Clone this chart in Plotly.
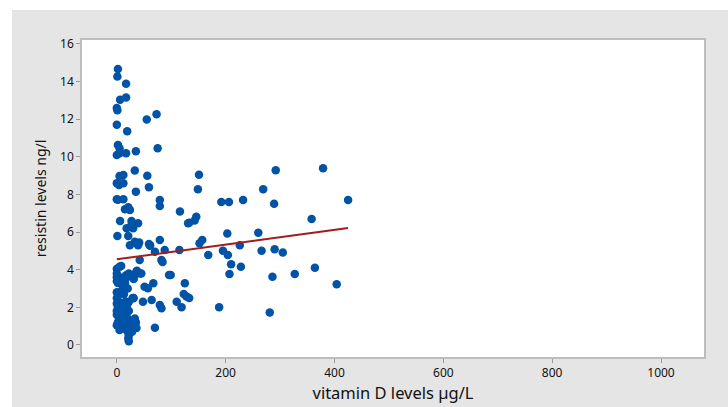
import plotly.graph_objects as go

# Vitamin D (µg/L) and resistin (ng/l) values
vit_d = [
    2, 1, 17, 17, 6, 0, 1, 73, 55, 0, 19, 2, 5, 75, 35, 0, 5, 17,
    12, 5, 33, 56, 0, 12, 4, 59, 35, 0, 12, 2, 79, 79, 21, 24, 15, 116,
    6, 27, 39, 18, 30, 27, 131, 1, 21, 33, 41, 59, 61, 79, 24, 39, 61,
    70, 88, 115, 82, 42, 96, 125, 128, 67, 51, 57, 30, 48, 64, 79, 82,
    110, 119, 70,
    151, 149, 192, 206, 232, 269, 292, 289, 133, 146, 143, 203, 260,
    157, 152, 168, 195, 204, 226, 266, 290, 210, 228, 207, 286, 123,
    133, 188, 281, 379, 425, 358, 305, 327, 364, 404, 99, 84,
    # dense cluster near the origin
    0, 5, 8, 36, 42, 37, 0, 22, 45, 17, 27, 0, 5, 18, 31, 12, 31, 0, 8,
    2, 15, 11, 14, 20, 0, 6, 2, 13, 0, 29, 31, 4, 16, 22, 0, 6, 20,
    2, 10, 18, 0, 5, 14, 22, 0, 8, 16, 4, 12, 20, 33, 2, 10, 24, 35,
    0, 8, 15, 12, 27, 36, 5, 18, 20, 28, 22, 21, 22,
]
resistin = [
    14.67, 14.27, 13.88, 13.15, 13.04, 12.6, 12.48, 12.26, 11.98, 11.7, 11.36, 10.63, 10.45, 10.46, 10.3, 10.1, 10.19, 10.19,
    9.04, 8.98, 9.27, 9.0, 8.6, 8.6, 8.5, 8.38, 8.15, 7.75, 7.75, 7.72, 7.71, 7.39, 7.32, 7.18, 7.21, 7.09,
    6.59, 6.59, 6.47, 6.2, 6.2, 6.38, 6.47, 5.79, 5.79, 5.49, 5.44, 5.37, 5.28, 5.58, 5.3, 5.3, 5.3,
    4.96, 5.05, 5.05, 4.52, 4.52, 3.72, 3.28, 2.57, 3.28, 3.1, 3.01, 2.48, 2.3, 2.39, 2.13, 1.95,
    2.3, 2.0, 0.92,
    9.05, 8.28, 7.6, 7.6, 7.71, 8.28, 9.29, 7.5, 6.49, 6.82, 6.61, 5.92, 5.97,
    5.58, 5.41, 4.78, 5.01, 4.78, 5.3, 5.01, 5.09, 4.29, 4.16, 3.77, 3.63, 2.71,
    2.5, 2.0, 1.72, 9.39, 7.71, 6.7, 4.91, 3.77, 4.11, 3.23, 3.72, 4.41,
    4.05, 4.16, 4.2, 3.9, 3.8, 3.95, 3.8, 3.8, 3.8, 3.7, 3.7, 3.6, 3.6, 3.6, 3.6, 3.5, 3.5, 3.4, 3.4,
    3.3, 3.3, 3.0, 3.0, 3.0, 2.8, 2.8, 2.7, 2.7, 2.5, 2.5, 2.5, 2.3, 2.3, 2.3, 2.2, 2.2, 2.2,
    2.0, 2.0, 2.0, 1.8, 1.8, 1.8, 1.8, 1.6, 1.6, 1.6, 1.4, 1.4, 1.4, 1.4, 1.2, 1.2, 1.2, 1.2,
    1.05, 1.05, 1.05, 0.9, 0.9, 0.9, 0.8, 0.8, 0.7, 0.7, 0.5, 0.35, 0.2,
]

# Fitted regression line end points
fit_x = [0, 425]
fit_y = [4.55, 6.22]

x_ticks = [0, 200, 400, 600, 800, 1000]
y_ticks = [0, 2, 4, 6, 8, 10, 12, 14, 16]

FONT = "Noto Sans, Open Sans, sans-serif"

fig = go.Figure()
fig.add_trace(go.Scatter(
    x=vit_d, y=resistin, mode="markers",
    marker=dict(color="#0053a6", size=8.5, line=dict(width=0)),
    showlegend=False,
))
fig.add_trace(go.Scatter(
    x=fit_x, y=fit_y, mode="lines",
    line=dict(color="#a11d1d", width=2),
    showlegend=False,
))

axis_font = dict(family=FONT, size=12, color="#111")
fig.update_xaxes(
    range=[-64, 1079], tickvals=x_ticks, ticktext=[str(v) for v in x_ticks],
    showgrid=False, zeroline=False,
    showline=True, mirror=True, linecolor="#bdbdbd", linewidth=1.5,
    ticks="outside", ticklen=4, tickcolor="#9a9a9a", tickwidth=1,
    tickfont=axis_font,
    title=dict(text="vitamin D levels µg/L",
               font=dict(family=FONT, size=16.5, color="#111"),
               standoff=5),
)
fig.update_yaxes(
    range=[-0.64, 16.21], tickvals=y_ticks, ticktext=[str(v) for v in y_ticks],
    showgrid=False, zeroline=False,
    showline=True, mirror=True, linecolor="#bdbdbd", linewidth=1.5,
    ticks="outside", ticklen=4, tickcolor="#9a9a9a", tickwidth=1,
    tickfont=axis_font,
    title=dict(text="resistin levels ng/l",
               font=dict(family=FONT, size=14, color="#111"),
               standoff=10),
)

fig.update_layout(
    width=728, height=407,
    margin=dict(l=82, r=24, t=40, b=50, autoexpand=False),
    paper_bgcolor="#e5e5e5",
    plot_bgcolor="#ffffff",
    shapes=[
        dict(type="rect", xref="paper", yref="paper",
             x0=-82 / 622, x1=(-82 + 12) / 622, y0=-50 / 317, y1=(317 + 40) / 317,
             fillcolor="#ffffff", line=dict(width=0), layer="below"),
        dict(type="rect", xref="paper", yref="paper",
             x0=-82 / 622, x1=(622 + 24) / 622, y0=(317 + 30) / 317, y1=(317 + 40) / 317,
             fillcolor="#ffffff", line=dict(width=0), layer="below"),
    ],
)

fig.write_html("out.html")
